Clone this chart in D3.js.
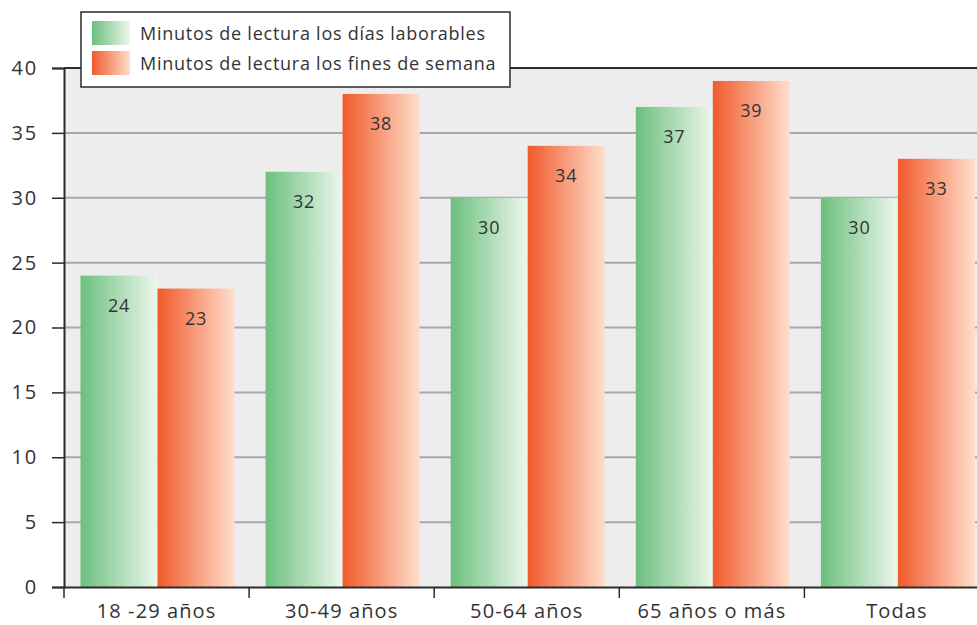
<!DOCTYPE html>
<html><head><meta charset="utf-8">
<script src="https://cdn.jsdelivr.net/npm/d3@7"></script>
<style>body{margin:0;background:#fff;overflow:hidden}svg{display:block}</style>
</head><body>
<svg id="c" width="977" height="625"></svg>
<script>
const categories = ["18 -29 años","30-49 años","50-64 años","65 años o más","Todas"];
const seriesNames = ["Minutos de lectura los días laborables","Minutos de lectura los fines de semana"];
const weekdays = [24,32,30,37,30];
const weekends = [23,38,34,39,33];
const yTicks = [0,5,10,15,20,25,30,35,40];

(function(){
const svg = d3.select("#c");
const mLeft = 64, mTop = 68, mBottom = 587, step = 185.1;
const x = d3.scaleBand().domain(categories).range([mLeft, mLeft + step*categories.length]).paddingInner(0).paddingOuter(0);
const y = d3.scaleLinear().domain([0,40]).range([mBottom, mTop]);
const inner = d3.scaleBand().domain([0,1]).range([16.5, 16.5+154]);

const defs = svg.append("defs");
const grads = [["gGreen","#6cbf7e","#ecf7ec"],["gOrange","#f05a2b","#ffdecc"]];
grads.forEach(([id,a,b])=>{
  const g = defs.append("linearGradient").attr("id",id).attr("x1","0").attr("x2","1").attr("y1","0").attr("y2","0");
  g.append("stop").attr("offset","0").attr("stop-color",a);
  g.append("stop").attr("offset","1").attr("stop-color",b);
});
const fills = ["url(#gGreen)","url(#gOrange)"];
const font = "'Open Sans', Lato, sans-serif";

svg.append("rect").attr("x",mLeft).attr("y",mTop).attr("width",977-mLeft).attr("height",mBottom-mTop).attr("fill","#ededed");

svg.append("g").selectAll("line").data(yTicks.filter(d=>d>0&&d<40)).join("line")
  .attr("x1",mLeft).attr("x2",977).attr("y1",d=>y(d)).attr("y2",d=>y(d))
  .attr("stroke","#a8a8ab").attr("stroke-width",2);

const series = [weekdays, weekends];
series.forEach((vals,si)=>{
  svg.append("g").selectAll("rect").data(vals).join("rect")
    .attr("x",(d,i)=>x(categories[i])+inner(si)).attr("width",inner.bandwidth())
    .attr("y",d=>y(d)).attr("height",d=>mBottom-y(d)).attr("fill",fills[si]);
  svg.append("g").selectAll("text").data(vals).join("text")
    .attr("x",(d,i)=>x(categories[i])+inner(si)+inner.bandwidth()/2)
    .attr("y",d=>y(d)+36).attr("text-anchor","middle")
    .attr("font-family",font).attr("font-size",18).attr("letter-spacing",0.8).attr("fill","#333").text(d=>d);
});

svg.append("line").attr("x1",mLeft).attr("x2",977).attr("y1",mTop).attr("y2",mTop).attr("stroke","#2b2b2b").attr("stroke-width",2);

const ya = svg.append("g").attr("transform",`translate(${mLeft},0)`)
  .call(d3.axisLeft(y).tickValues(yTicks).tickSize(12).tickPadding(14));
ya.select(".domain").attr("stroke","#2b2b2b").attr("stroke-width",2);
ya.selectAll(".tick line").attr("stroke","#2b2b2b").attr("stroke-width",1.5);
ya.selectAll("text").attr("font-family",font).attr("font-size",20).attr("letter-spacing",1.8).attr("fill","#333");

const xa = svg.append("g").attr("transform",`translate(0,${mBottom})`)
  .call(d3.axisBottom(x).tickSize(0).tickPadding(17));
xa.select(".domain").attr("stroke","#2b2b2b").attr("stroke-width",2);
xa.selectAll("text").attr("font-family",font).attr("font-size",20).attr("letter-spacing",1.1).attr("fill","#333");
svg.append("g").selectAll("line").data(categories).join("line")
  .attr("x1",d=>x(d)).attr("x2",d=>x(d)).attr("y1",mBottom).attr("y2",mBottom+11)
  .attr("stroke","#2b2b2b").attr("stroke-width",1.5);

const lg = svg.append("g");
lg.append("rect").attr("x",81).attr("y",12).attr("width",429).attr("height",75)
  .attr("fill","#fff").attr("stroke","#2b2b2b").attr("stroke-width",1.5);
seriesNames.forEach((n,i)=>{
  lg.append("rect").attr("x",92).attr("y",21+i*30).attr("width",38).attr("height",24).attr("fill",fills[i]);
  lg.append("text").attr("x",140).attr("y",39.5+i*30).attr("font-family",font).attr("font-size",18).attr("letter-spacing",0.75).attr("fill","#333").text(n);
});
})();
</script>
</body></html>
